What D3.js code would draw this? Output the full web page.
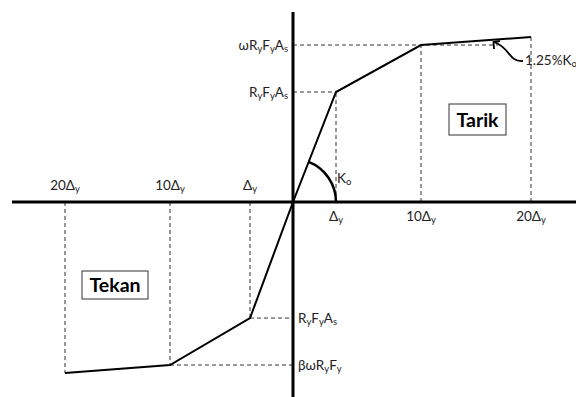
<!DOCTYPE html>
<html>
<head>
<meta charset="utf-8">
<script src="https://cdn.jsdelivr.net/npm/d3@7"></script>
<style>
  html, body { margin: 0; padding: 0; background: #fff; }
  svg { display: block; }
  text { font-family: Lato, "Open Sans", sans-serif; fill: #222; }
</style>
</head>
<body>
<svg id="chart" width="576" height="397"></svg>
<script>
// Backbone curve of the brace: displacement in multiples of Δy, force in units of RyFyAs
const tensionDisp = [0, 1, 10, 20];
const tensionForce = [0, 1.0, 1.427, 1.5];
const compressionDisp = [0, -1, -10, -20];
const compressionForce = [0, -1.055, -1.482, -1.555];

// Displacement tick labels
const xTickValues = [-20, -10, -1, 1, 10, 20];
const xTickLabels = [["20Δ", "y"], ["10Δ", "y"], ["Δ", "y"], ["Δ", "y"], ["10Δ", "y"], ["20Δ", "y"]];

// Force level labels (value, parts: [text, isSubscript])
const forceLevels = [
  { v: 1.427, side: "left", parts: [["ωR", 0], ["y", 1], ["F", 0], ["y", 1], ["A", 0], ["s", 1]] },
  { v: 1.0, side: "left", parts: [["R", 0], ["y", 1], ["F", 0], ["y", 1], ["A", 0], ["s", 1]] },
  { v: -1.055, side: "right", parts: [["R", 0], ["y", 1], ["F", 0], ["y", 1], ["A", 0], ["s", 1]] },
  { v: -1.482, side: "right", parts: [["βωR", 0], ["y", 1], ["F", 0], ["y", 1]] }
];

const svg = d3.select("#chart");

// Schematic (non-proportional) displacement axis
const x = d3.scaleLinear()
  .domain([-20, -10, -1, 0, 1, 10, 20])
  .range([65, 170, 250, 293, 336, 421, 531]);
const y = d3.scaleLinear().domain([0, 1]).range([202, 92]);

const x0 = x(0), y0 = y(0);

// Dashed guide lines
const guides = svg.append("g")
  .attr("stroke", "#333").attr("stroke-width", 1)
  .attr("stroke-dasharray", "4,3").attr("fill", "none");

function vGuide(d, f) {
  guides.append("line").attr("x1", x(d)).attr("x2", x(d)).attr("y1", y0).attr("y2", y(f));
}
function hGuide(dFrom, dTo, f) {
  guides.append("line").attr("x1", x(dFrom)).attr("x2", x(dTo)).attr("y1", y(f)).attr("y2", y(f));
}
tensionDisp.forEach((d, i) => { if (d !== 0) vGuide(d, tensionForce[i]); });
compressionDisp.forEach((d, i) => { if (d !== 0) vGuide(d, compressionForce[i]); });
hGuide(0, 1, tensionForce[1]);
hGuide(0, 17, tensionForce[2]);
hGuide(-1, 0, compressionForce[1]);
hGuide(-10, 0, compressionForce[2]);

// Axes
svg.append("line").attr("x1", 12).attr("x2", 576).attr("y1", y0).attr("y2", y0)
  .attr("stroke", "#000").attr("stroke-width", 3);
svg.append("line").attr("x1", x0).attr("x2", x0).attr("y1", 12).attr("y2", 397)
  .attr("stroke", "#000").attr("stroke-width", 3);

// Backbone curves
const line = d3.line().x(d => x(d[0])).y(d => y(d[1]));
svg.append("path")
  .datum(tensionDisp.map((d, i) => [d, tensionForce[i]]))
  .attr("d", line).attr("fill", "none").attr("stroke", "#000").attr("stroke-width", 2);
svg.append("path")
  .datum(compressionDisp.map((d, i) => [d, compressionForce[i]]))
  .attr("d", line).attr("fill", "none").attr("stroke", "#000").attr("stroke-width", 2);

// Initial stiffness arc Ko
const ang = Math.atan2(y0 - y(tensionForce[1]), x(1) - x0);
const r = x(1) - x0;
const arc = d3.path();
arc.arc(x0, y0, r, -ang, 0);
svg.append("path").attr("d", arc.toString())
  .attr("fill", "none").attr("stroke", "#000").attr("stroke-width", 2.5);

function subText(g, parts, size) {
  parts.forEach(([t, sub]) => {
    g.append("tspan").text(t)
      .attr("font-size", sub ? size * 0.7 : size)
      .attr("baseline-shift", sub ? "-22%" : null);
  });
}

// Displacement tick labels
xTickValues.forEach((v, i) => {
  const t = svg.append("text")
    .attr("x", x(v))
    .attr("y", v < 0 ? 190 : 221)
    .attr("text-anchor", "middle");
  subText(t, [[xTickLabels[i][0], 0], [xTickLabels[i][1], 1]], 13.5);
});

// Force level labels
forceLevels.forEach(l => {
  const t = svg.append("text")
    .attr("x", l.side === "left" ? x0 - 5 : x0 + 5)
    .attr("y", y(l.v) + 5)
    .attr("text-anchor", l.side === "left" ? "end" : "start");
  subText(t, l.parts, 13.5);
});

// Ko label
const ko = svg.append("text").attr("x", 337).attr("y", 183);
subText(ko, [["K", 0], ["o", 1]], 13.5);

// Post-yield stiffness annotation
const note = svg.append("text").attr("x", 525).attr("y", 65);
subText(note, [["1.25%K", 0], ["o", 1]], 13.5);
svg.append("path")
  .attr("d", "M523,61 C508,62 511,48 494,42")
  .attr("fill", "none").attr("stroke", "#000").attr("stroke-width", 1.8);
svg.append("path")
  .attr("d", "M494,49 L493.5,42 L500,41")
  .attr("fill", "none").attr("stroke", "#000").attr("stroke-width", 1.8);

// Region boxes
function boxLabel(label, cx, cy, w, h, size) {
  svg.append("rect").attr("x", cx - w / 2).attr("y", cy - h / 2)
    .attr("width", w).attr("height", h)
    .attr("fill", "#fff").attr("stroke", "#333").attr("stroke-width", 1);
  svg.append("text").attr("x", cx).attr("y", cy + size * 0.36)
    .attr("text-anchor", "middle").attr("font-weight", "bold")
    .attr("font-size", size).style("fill", "#000").text(label);
}
boxLabel("Tarik", 477.5, 119.5, 57, 31, 19.5);
boxLabel("Tekan", 115, 285, 66, 28, 19.5);
</script>
</body>
</html>
